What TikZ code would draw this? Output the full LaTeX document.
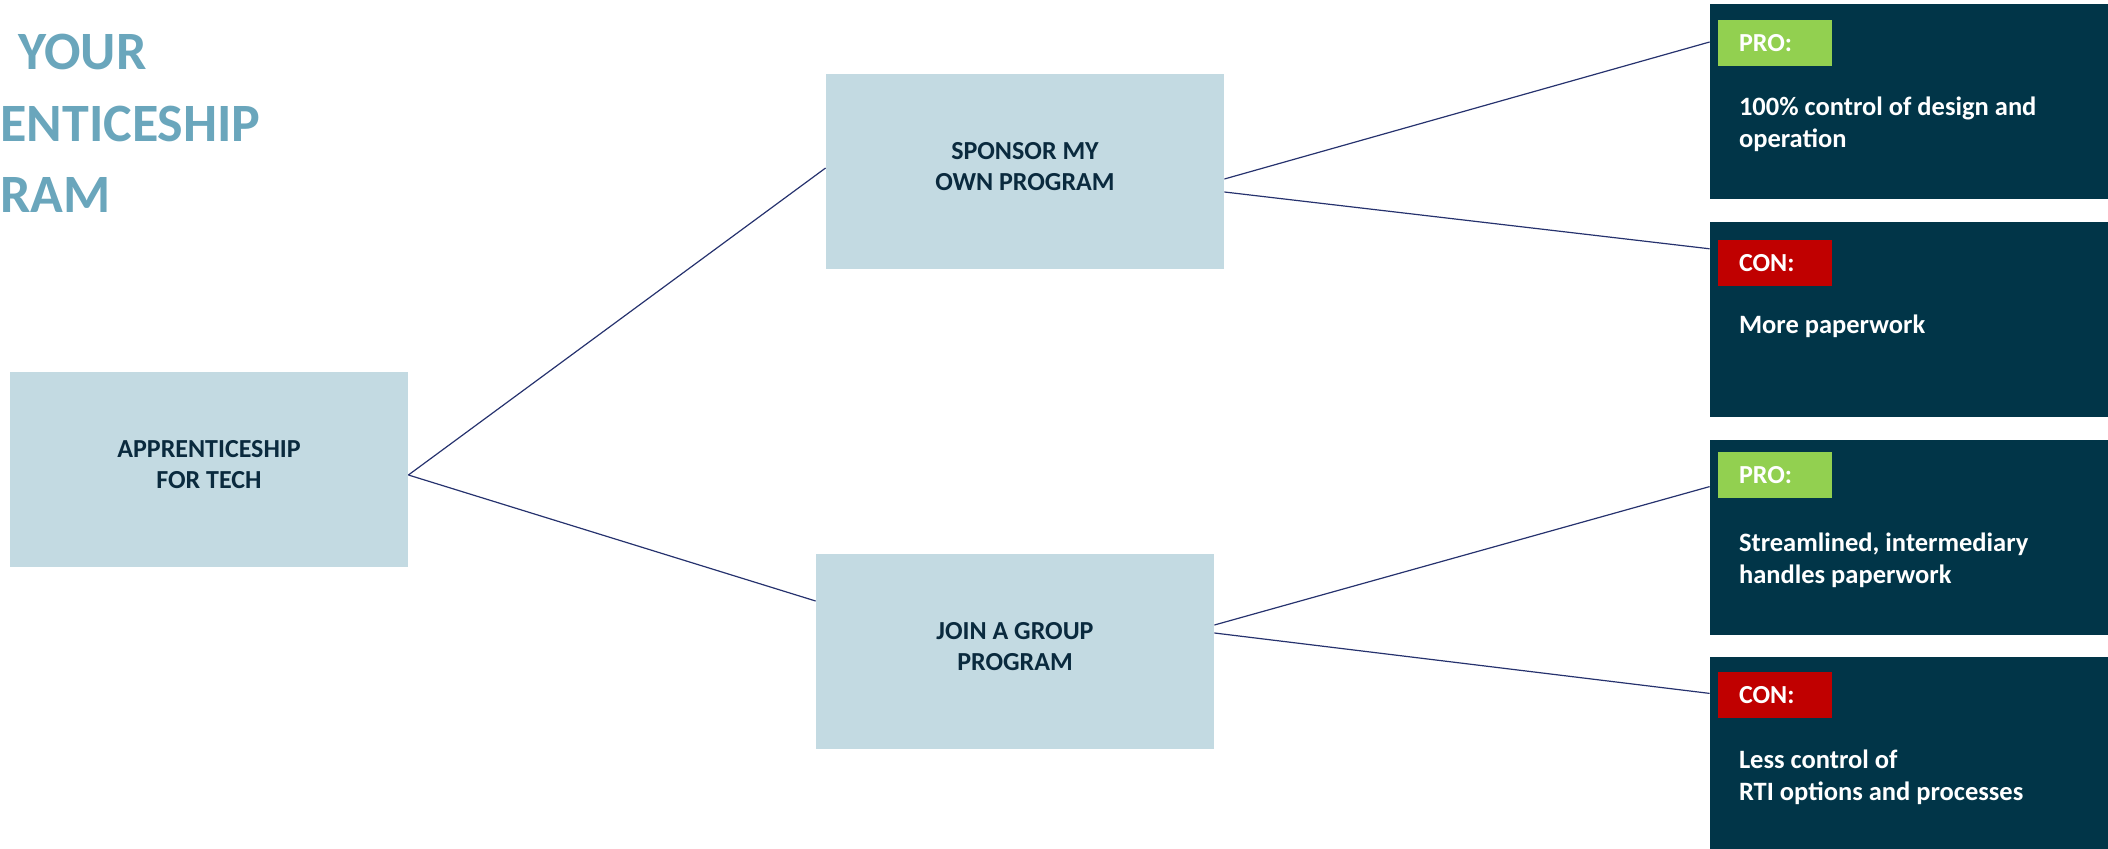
\documentclass[tikz,border=0pt]{standalone}
\usepackage{fontspec}
\setmainfont{Carlito}
\usetikzlibrary{positioning}
\definecolor{paleblue}{RGB}{195,218,226}
\definecolor{deepteal}{RGB}{1,53,72}
\definecolor{titleblue}{RGB}{106,166,188}
\definecolor{navytext}{RGB}{10,42,62}
\definecolor{linkblue}{RGB}{38,50,110}
\definecolor{progreen}{RGB}{146,208,80}
\definecolor{conred}{RGB}{192,0,0}
% two centred lines, sitting a little above the middle of the box
\newcommand{\boxlines}[1]{\raisebox{0pt}[\height][\dimexpr\depth+3pt\relax]{%
  \begin{tabular}{@{}c@{}}#1\end{tabular}}}
\tikzset{
  block/.style={fill=paleblue,minimum width=199pt,minimum height=97.5pt,
    inner sep=0pt,text=navytext,font=\bfseries\fontsize{13}{15.5}\selectfont},
  optbox/.style={fill=deepteal,minimum width=199pt,minimum height=97.5pt,inner sep=0pt},
  tag/.style={anchor=north west,minimum width=57pt,minimum height=23pt,
    inner xsep=10.5pt,inner ysep=0pt,text width=36pt,align=left,text=white,
    font=\bfseries\fontsize{13}{15}\selectfont},
  note/.style={anchor=north west,inner sep=0pt,align=left,text=white,
    font=\bfseries\fontsize{13.25}{16}\selectfont},
  heading/.style={anchor=base west,inner sep=0pt,text=titleblue,
    font=\bfseries\fontsize{27}{35.5}\selectfont},
  link/.style={draw=linkblue,line width=0.6pt}
}
\begin{document}
\begin{tikzpicture}[x=0.5pt,y=-0.5pt,node distance=11pt]
  \useasboundingbox (0,0) rectangle (2108,849);

  % title, cut at the left edge
  \node[heading] (title1) at (18,70) {YOUR};
  \node[heading] (title2) at (0,142) {ENTICESHIP};
  \node[heading] (title3) at (0,213) {RAM};

  % decision tree
  \node[block] (root) at (209,469.5) {\boxlines{APPRENTICESHIP\\FOR TECH}};
  \node[block] (own) at (1025,171.5) {\boxlines{SPONSOR MY\\OWN PROGRAM}};
  \node[block] (group) at (1015,651.5) {\boxlines{JOIN A GROUP\\PROGRAM}};

  % pros and cons
  \node[optbox] (opt1) at (1909,101.5) {};
  \node[optbox,below=of opt1] (opt2) {};
  \node[optbox,below=of opt2] (opt3) {};
  \node[optbox,below=of opt3] (opt4) {};

  \node[tag,fill=progreen] (pro1) at ([shift={(8,16)}]opt1.north west) {PRO:};
  \node[tag,fill=conred] (con1) at ([shift={(8,18)}]opt2.north west) {CON:};
  \node[tag,fill=progreen] (pro2) at ([shift={(8,12)}]opt3.north west) {PRO:};
  \node[tag,fill=conred] (con2) at ([shift={(8,15)}]opt4.north west) {CON:};

  \node[note] (txt1) at ([shift={(29,93)}]opt1.north west) {100\% control of design and\\operation};
  \node[note] (txt2) at ([shift={(29,93)}]opt2.north west) {More paperwork};
  \node[note] (txt3) at ([shift={(29,93)}]opt3.north west) {Streamlined, intermediary\\handles paperwork};
  \node[note] (txt4) at ([shift={(29,93)}]opt4.north west) {Less control of\\RTI options and processes};

  \draw[link] ([yshift=-2.75pt]root.east) -- ([yshift=1.75pt]own.west);
  \draw[link] ([yshift=-2.75pt]root.east) -- ([yshift=25.25pt]group.west);
  \draw[link] ([yshift=-3.75pt]own.east) -- ([yshift=29.75pt]opt1.west);
  \draw[link] ([yshift=-10.25pt]own.east) -- ([yshift=35.25pt]opt2.west);
  \draw[link] ([yshift=13.25pt]group.east) -- ([yshift=25.25pt]opt3.west);
  \draw[link] ([yshift=9.25pt]group.east) -- ([yshift=30.75pt]opt4.west);
\end{tikzpicture}
\end{document}
